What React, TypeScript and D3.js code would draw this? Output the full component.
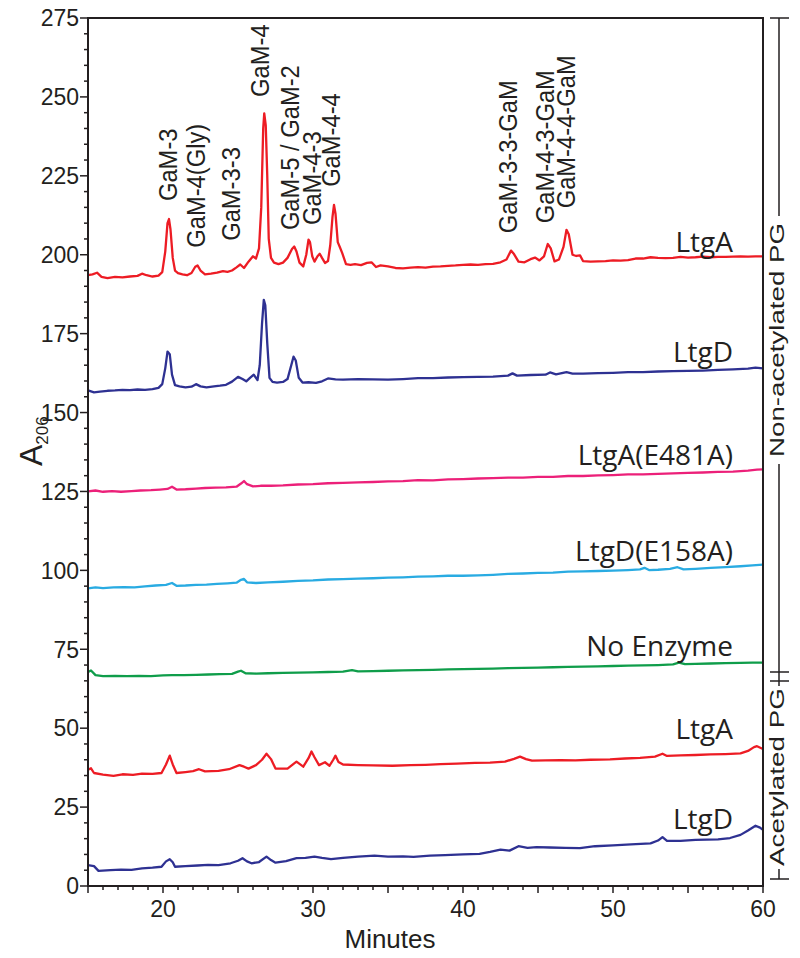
import React from "react";
import * as d3 from "d3";

// ---------- DATA (minutes, A206) ----------
const ltgA: [number, number][] = [
  [15.0,193.5],[15.3,193.8],[15.6,194.3],[15.9,193.0],[16.3,192.6],[16.8,193.0],[17.3,192.8],[17.8,193.1],[18.3,193.3],[18.6,194.0],[18.9,193.5],[19.3,193.1],[19.7,193.4],[19.95,194.5],[20.15,201],[20.3,210],[20.4,211.3],[20.5,208],[20.65,199],[20.8,195],[21.0,194.2],[21.3,193.8],[21.6,193.5],[21.9,194.2],[22.15,196.2],[22.3,196.6],[22.5,195],[22.8,193.8],[23.2,194.0],[23.6,194.3],[24.0,194.8],[24.3,194.6],[24.6,195.0],[24.9,196.0],[25.15,196.9],[25.4,195.8],[25.7,197.8],[26.0,199.5],[26.2,198.8],[26.4,202],[26.55,215],[26.68,240],[26.75,244.8],[26.85,241],[26.95,225],[27.05,205],[27.2,199],[27.4,197.5],[27.7,197.0],[28.0,197.5],[28.3,199],[28.6,201.8],[28.75,202.6],[28.9,201],[29.1,197.5],[29.35,196.3],[29.55,200],[29.7,204.8],[29.8,204],[29.95,199.5],[30.1,197.8],[30.3,199.5],[30.45,200.3],[30.6,199],[30.8,197.4],[31.0,198],[31.15,203],[31.3,212],[31.4,215.8],[31.5,213],[31.65,204],[31.8,202.3],[31.95,200.5],[32.2,197],[32.5,196.8],[32.8,197.0],[33.2,196.7],[33.6,197.4],[33.9,197.6],[34.2,196.1],[34.5,196.6],[35.0,196.3],[35.5,195.8],[36.0,195.7],[36.5,195.9],[37.0,196.1],[37.5,195.9],[38.0,196.2],[38.5,196.3],[39.0,196.5],[39.5,196.6],[40.0,196.8],[40.5,196.9],[41.0,196.8],[41.5,197.0],[42.0,197.1],[42.5,197.6],[42.9,198.5],[43.2,201.3],[43.4,200.2],[43.7,197.8],[44.1,197.6],[44.5,198.6],[44.8,199.1],[45.1,198.2],[45.4,199.5],[45.65,203.4],[45.85,202],[46.1,197.9],[46.4,198.5],[46.7,202.5],[46.9,207.9],[47.05,206.5],[47.3,200],[47.55,199.6],[47.8,199.8],[48.0,198.0],[48.5,197.8],[49.0,197.9],[49.5,198.0],[50.0,198.2],[50.5,198.1],[51.0,198.3],[51.5,198.8],[52.0,198.8],[52.5,199.2],[53.0,199.0],[53.5,198.9],[54.0,199.0],[54.5,199.3],[55.0,199.1],[55.5,199.2],[56.0,199.4],[56.5,199.2],[57.0,199.3],[57.5,199.3],[58.0,199.4],[58.5,199.5],[59.0,199.4],[59.5,199.5],[60.0,199.5]
];
const ltgD: [number, number][] = [
  [15.0,157.0],[15.4,156.4],[15.8,156.6],[16.3,156.9],[16.8,157.0],[17.3,157.2],[17.8,157.1],[18.3,157.3],[18.8,157.2],[19.3,157.4],[19.7,157.8],[19.95,159],[20.15,164],[20.3,169.3],[20.45,168.5],[20.6,162],[20.8,158.7],[21.1,158.3],[21.5,158.0],[21.9,158.2],[22.2,159.0],[22.5,158.3],[22.9,158.0],[23.4,158.3],[23.8,158.5],[24.2,158.8],[24.6,159.8],[25.0,161.3],[25.3,160.6],[25.55,159.9],[25.8,161.0],[26.05,162.0],[26.3,160.3],[26.45,165],[26.6,178],[26.72,185.7],[26.82,184],[26.95,172],[27.1,161],[27.3,159.7],[27.6,159.5],[28.0,159.7],[28.3,160.6],[28.55,165],[28.7,167.7],[28.85,166.5],[29.05,161],[29.3,159.5],[29.7,159.6],[30.2,159.4],[30.6,159.9],[31.0,160.8],[31.5,160.5],[32.0,160.4],[33.0,160.6],[34.0,160.5],[35.0,160.4],[36.0,160.6],[37.0,160.9],[38.0,160.9],[39.0,161.1],[40.0,161.2],[41.0,161.3],[42.0,161.4],[43.0,161.7],[43.3,162.4],[43.6,161.7],[44.5,161.9],[45.5,162.0],[45.8,162.7],[46.2,162.1],[46.9,162.8],[47.3,162.3],[48.0,162.3],[49.0,162.5],[50.0,162.6],[51.0,162.8],[52.0,162.8],[53.0,163.0],[54.0,163.1],[55.0,163.2],[56.0,163.3],[57.0,163.5],[58.0,163.7],[59.0,163.9],[59.5,164.2],[60.0,164.0]
];
const ltgAE481A: [number, number][] = [
  [15.0,125.0],[15.5,125.3],[16.0,124.9],[16.6,125.1],[17.2,124.9],[17.9,125.1],[18.5,125.3],[19.2,125.4],[19.8,125.6],[20.3,125.8],[20.6,126.5],[20.9,125.6],[21.5,125.7],[22.2,125.9],[22.8,126.1],[23.5,126.2],[24.2,126.3],[24.9,126.5],[25.2,127.5],[25.4,128.3],[25.6,127.3],[26.0,126.6],[26.5,126.8],[27.2,126.8],[28.0,126.9],[29.0,127.2],[30.0,127.3],[31.0,127.6],[32.0,127.7],[33.0,127.9],[34.0,128.0],[35.0,128.2],[36.0,128.3],[37.0,128.6],[38.0,128.5],[39.0,128.8],[40.0,128.9],[41.0,129.1],[42.0,129.2],[43.0,129.4],[44.0,129.4],[45.0,129.6],[46.0,129.6],[47.0,129.9],[48.0,129.9],[49.0,130.1],[50.0,130.2],[51.0,130.4],[52.0,130.4],[53.0,130.6],[54.0,130.7],[55.0,130.9],[56.0,131.0],[57.0,131.2],[58.0,131.3],[59.0,131.6],[59.6,131.9],[60.0,132.0]
];
const ltgDE158A: [number, number][] = [
  [15.0,94.3],[15.5,94.6],[16.0,94.4],[16.7,94.6],[17.4,94.7],[18.1,94.6],[18.8,94.9],[19.5,95.2],[20.2,95.4],[20.6,96.0],[20.9,95.1],[21.5,95.2],[22.2,95.4],[22.9,95.5],[23.6,95.7],[24.3,95.9],[24.9,96.1],[25.2,97.0],[25.4,97.3],[25.6,96.2],[26.2,96.0],[27.0,96.2],[28.0,96.4],[29.0,96.7],[30.0,96.8],[31.0,97.1],[32.0,97.2],[33.0,97.4],[34.0,97.5],[35.0,97.7],[36.0,97.8],[37.0,98.0],[38.0,98.1],[39.0,98.3],[40.0,98.3],[41.0,98.4],[42.0,98.6],[43.0,98.9],[44.0,99.0],[45.0,99.2],[46.0,99.3],[47.0,99.6],[48.0,99.7],[49.0,99.8],[50.0,99.9],[51.0,100.1],[51.8,100.3],[52.1,100.8],[52.4,100.1],[53.0,100.2],[53.8,100.5],[54.3,101.0],[54.7,100.3],[55.5,100.5],[56.5,100.8],[57.5,101.0],[58.5,101.3],[59.3,101.6],[60.0,101.8]
];
const noEnzyme: [number, number][] = [
  [15.0,67.8],[15.2,68.3],[15.5,66.8],[16.0,66.5],[16.8,66.6],[17.6,66.5],[18.4,66.6],[19.2,66.5],[20.0,66.7],[20.6,66.8],[21.4,66.8],[22.2,66.9],[23.0,67.0],[23.8,67.1],[24.6,67.2],[25.0,67.9],[25.2,68.2],[25.5,67.4],[26.2,67.3],[27.0,67.4],[28.0,67.5],[29.0,67.6],[30.0,67.7],[31.0,67.8],[32.0,67.9],[32.6,68.4],[33.0,68.0],[34.0,68.1],[35.0,68.2],[36.0,68.3],[37.0,68.4],[38.0,68.5],[39.0,68.6],[40.0,68.7],[41.0,68.8],[42.0,68.9],[43.0,69.0],[44.0,69.1],[45.0,69.2],[46.0,69.3],[47.0,69.4],[48.0,69.5],[49.0,69.6],[50.0,69.7],[51.0,69.8],[52.0,69.9],[53.0,70.0],[54.0,70.2],[54.4,70.8],[54.8,70.3],[55.5,70.4],[56.5,70.5],[57.5,70.6],[58.5,70.7],[59.3,70.8],[60.0,70.8]
];
const ltgAAcet: [number, number][] = [
  [15.0,36.8],[15.2,37.3],[15.4,35.8],[16.0,35.3],[16.7,34.9],[17.3,35.4],[18.0,35.2],[18.6,35.6],[19.3,35.5],[19.9,35.8],[20.2,38.5],[20.45,41.3],[20.65,38.5],[20.9,35.8],[21.5,36.1],[22.0,36.4],[22.4,37.0],[22.8,36.3],[23.7,36.5],[24.4,37.0],[25.1,38.3],[25.4,37.8],[25.7,37.2],[26.2,38.3],[26.6,40.0],[26.9,41.9],[27.2,40.2],[27.5,37.2],[28.3,37.2],[28.9,39.4],[29.35,37.8],[29.7,40.5],[29.9,42.6],[30.1,40.8],[30.4,38.3],[30.8,39.2],[31.1,38.1],[31.35,40.0],[31.5,41.3],[31.7,39.3],[32.0,38.5],[33.0,38.3],[34.0,38.2],[35.3,38.1],[36.5,38.3],[37.5,38.4],[38.5,38.6],[39.6,38.8],[40.8,39.0],[41.8,39.1],[42.8,39.4],[43.4,40.3],[43.8,41.0],[44.2,40.2],[44.6,39.7],[45.5,39.8],[46.5,39.9],[47.5,39.8],[48.5,40.0],[49.8,40.1],[50.8,40.4],[51.8,40.6],[52.8,41.0],[53.3,41.9],[53.6,41.2],[54.5,41.4],[55.5,41.5],[56.5,41.7],[57.5,41.8],[58.5,42.0],[59.0,42.8],[59.4,44.0],[59.6,44.3],[60.0,43.4]
];
const ltgDAcet: [number, number][] = [
  [15.0,6.6],[15.4,6.3],[15.7,4.8],[16.5,5.0],[17.2,5.2],[17.9,5.1],[18.6,5.6],[19.3,5.8],[19.9,6.1],[20.2,7.8],[20.45,8.5],[20.65,7.5],[20.8,6.1],[21.5,6.3],[22.3,6.5],[23.0,6.7],[23.7,6.6],[24.5,7.2],[25.0,8.0],[25.3,8.8],[25.6,7.8],[25.9,7.2],[26.4,7.6],[26.9,9.3],[27.2,8.2],[27.5,7.4],[28.2,7.9],[28.9,8.8],[29.5,8.9],[30.1,9.3],[30.6,8.9],[31.2,8.5],[32.0,8.9],[33.0,9.3],[34.1,9.6],[35.0,9.3],[36.0,9.4],[36.7,9.2],[37.8,9.6],[38.8,9.8],[40.0,10.0],[41.1,10.2],[41.8,10.8],[42.5,11.5],[43.1,11.2],[43.7,12.6],[44.3,12.1],[44.9,12.3],[45.8,12.2],[46.8,12.1],[47.8,12.0],[48.8,12.6],[50.0,12.9],[51.2,13.2],[52.5,13.5],[53.0,14.4],[53.3,15.5],[53.6,14.3],[54.5,14.3],[55.5,14.6],[57.0,14.8],[57.8,15.2],[58.5,16.2],[59.0,17.6],[59.5,19.1],[59.8,18.5],[60.0,17.8]
];

const seriesNames = ["LtgA", "LtgD", "LtgA(E481A)", "LtgD(E158A)", "No Enzyme", "LtgA", "LtgD"];
const seriesData = [ltgA, ltgD, ltgAE481A, ltgDE158A, noEnzyme, ltgAAcet, ltgDAcet];
const seriesColors = ["#ed1c24", "#2e3192", "#ec2079", "#29abe2", "#0f9d4a", "#ed1c24", "#2e3192"];
// label baselines in A206 units
const seriesLabelAt = [200.9, 166.0, 133.5, 103.0, 72.8, 46.6, 18.0];

const peakLabels = ["GaM-3", "GaM-4(Gly)", "GaM-3-3", "GaM-4", "GaM-5 / GaM-2", "GaM-4-3", "GaM-4-4", "GaM-3-3-GaM", "GaM-4-3-GaM", "GaM-4-4-GaM"];
const peakMinutes = [20.33, 22.2, 24.53, 26.47, 28.47, 29.93, 31.2, 43.0, 45.47, 46.87];
const peakLabelBase = [217.0, 202.2, 204.4, 250.0, 207.8, 209.4, 221.5, 206.8, 210.0, 214.7];

const xTickLabels = [20, 30, 40, 50, 60];
const yTickLabels = [0, 25, 50, 75, 100, 125, 150, 175, 200, 225, 250, 275];

export default function App() {
  const x = d3.scaleLinear().domain([15, 60]).range([88, 763]);
  const y = d3.scaleLinear().domain([0, 275]).range([886, 18]);
  const line = d3.line<[number, number]>().x((d) => x(d[0])).y((d) => y(d[1]));
  const axisColor = "#231f20";
  const yMinor = d3.range(0, 276, 5);
  const xMinor = d3.range(15, 61, 1);
  const bx = 779;
  const sans = "Liberation Sans, Arial, sans-serif";

  return (
    <svg width={800} height={958} style={{ position: "absolute", left: 0, top: 0, background: "#fff" }}>
      <rect x={0} y={0} width={800} height={958} fill="#fff" />
      {/* traces */}
      {seriesData.map((s, i) => (
        <path key={i} d={line(s) || ""} fill="none" stroke={seriesColors[i]} strokeWidth={2.3} strokeLinejoin="round" />
      ))}
      {/* frame */}
      <path d={`M${x(15)},${y(0)} V${y(275)} H${x(60)} V${y(0)} Z`} fill="none" stroke={axisColor} strokeWidth={2} />
      {/* ticks */}
      {yMinor.map((v) => (
        <line key={"ym" + v} x1={x(15)} x2={x(15) - (v % 25 === 0 ? 8 : 4)} y1={y(v)} y2={y(v)} stroke={axisColor} strokeWidth={1.5} />
      ))}
      {xMinor.map((v) => (
        <line key={"xm" + v} x1={x(v)} x2={x(v)} y1={y(0)} y2={y(0) + (v % 5 === 0 ? 7 : 4)} stroke={axisColor} strokeWidth={1.5} />
      ))}
      {yTickLabels.map((v) => (
        <text key={"yl" + v} x={79} y={y(v)} dy="0.36em" textAnchor="end" fontFamily={sans} fontSize={23} fill={axisColor}>{v}</text>
      ))}
      {xTickLabels.map((v) => (
        <text key={"xl" + v} x={x(v)} y={917} textAnchor="middle" fontFamily={sans} fontSize={23} fill={axisColor}>{v}</text>
      ))}
      <text x={390} y={948} textAnchor="middle" fontFamily={sans} fontSize={26} fill={axisColor}>Minutes</text>
      <text transform={`translate(42,466) rotate(-90)`} fontFamily={sans} fontSize={32} fill={axisColor}>
        A<tspan fontSize={17} dy={6}>206</tspan>
      </text>
      {/* peak labels */}
      {peakLabels.map((t, i) => (
        <text key={"pk" + i} transform={`translate(${x(peakMinutes[i]) + 9},${y(peakLabelBase[i])}) rotate(-90) scale(0.95,1)`} fontFamily={sans} fontSize={25} fill={axisColor}>{t}</text>
      ))}
      {/* series labels */}
      {seriesNames.map((t, i) => (
        <text key={"sl" + i} x={733} y={y(seriesLabelAt[i])} textAnchor="end" fontFamily="Open Sans, sans-serif" fontSize={28} fill={axisColor}>{t}</text>
      ))}
      {/* right brackets */}
      <g stroke={axisColor} strokeWidth={1.5}>
        <line x1={770} x2={789} y1={18} y2={18} />
        <line x1={bx} x2={bx} y1={18} y2={216} />
        <line x1={bx} x2={bx} y1={464} y2={686} />
        <line x1={770} x2={789} y1={672} y2={672} />
        <line x1={770} x2={789} y1={681} y2={681} />
        <line x1={bx} x2={bx} y1={869} y2={879} />
        <line x1={770} x2={789} y1={879} y2={879} />
      </g>
      <text transform={`translate(784,340) rotate(-90)`} textAnchor="middle" fontFamily={sans} fontSize={20} textLength={234} lengthAdjust="spacingAndGlyphs" fill={axisColor}>Non-acetylated PG</text>
      <text transform={`translate(784,777) rotate(-90)`} textAnchor="middle" fontFamily={sans} fontSize={20} textLength={178} lengthAdjust="spacingAndGlyphs" fill={axisColor}>Acetylated PG</text>
    </svg>
  );
}
